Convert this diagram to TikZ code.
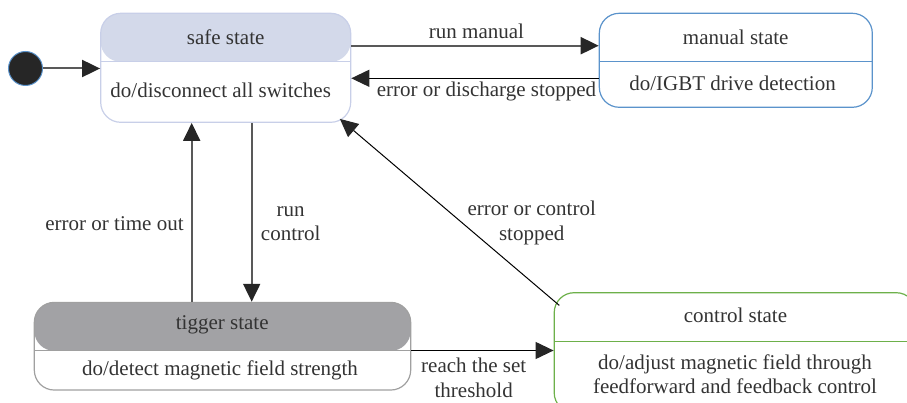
\documentclass[tikz,border=0pt]{standalone}
\usepackage{fontspec}
\setmainfont{LiberationSerif-Regular.ttf}
\usetikzlibrary{arrows.meta}

\definecolor{txt}{HTML}{333333}
\definecolor{safehead}{HTML}{D3D9EA}
\definecolor{safeline}{HTML}{C8CFE8}
\definecolor{manualline}{HTML}{5B93CB}
\definecolor{tighead}{HTML}{A2A2A5}
\definecolor{tigline}{HTML}{A0A0A0}
\definecolor{ctrlline}{HTML}{6DB04A}
\definecolor{initdark}{HTML}{262626}
\definecolor{wire}{HTML}{595959}
\definecolor{tip}{HTML}{262626}

\begin{document}
\begin{tikzpicture}[x=1pt, y=-1pt,
	every node/.style={text=txt, font=\fontsize{21}{24.5}\selectfont},
	state/.style={draw, line width=1.2pt, rounded corners=20pt, inner sep=0pt},
	head/.style 2 args={path picture={
		\fill[#1] (path picture bounding box.north west) rectangle ([yshift=-48.5pt]path picture bounding box.north east);
		\draw[#2, line width=1.2pt] ([yshift=-48.5pt]path picture bounding box.north west) -- ([yshift=-48.5pt]path picture bounding box.north east);}},
	lbl/.style={inner sep=0pt, align=center},
	arr/.style={-{Triangle[length=18pt, width=17pt, color=tip]}},
	thick wire/.style={arr, draw=wire, line width=2pt},
	thin wire/.style={arr, draw=black, line width=1.2pt}]
	  \useasboundingbox (0,0) rectangle (907,403);
	  \clip (0,0) rectangle (907,403);

	  \node[circle, draw=manualline, fill=initdark, line width=1pt, minimum size=34pt, inner sep=0pt] (init) at (25.5,68.5) {};

	  \node[state, draw=safeline, head={safehead}{safeline}, minimum width=250pt, minimum height=109pt] (safe) at (225.7,67.8) {};
	  \node[state, draw=manualline, head={white}{manualline}, minimum width=273pt, minimum height=94pt] (manual) at (735.8,60.3) {};
	  \node[state, draw=tigline, head={tighead}{tigline}, minimum width=376.4pt, minimum height=87.7pt] (tigger) at (222.5,346.2) {};
	  \node[state, draw=ctrlline, head={white}{ctrlline}, minimum width=362pt, minimum height=120pt] (control) at (735.2,352.7) {};

	  \node[lbl] (safe-t) at (225.7,37) {safe state};
	  \node[lbl] (safe-b) at (220.7,90.7) {do/disconnect all switches};
	  \node[lbl] (manual-t) at (735.7,37.3) {manual state};
	  \node[lbl] (manual-b) at (732.5,83.3) {do/IGBT drive detection};
	  \node[lbl] (tigger-t) at (222.2,325) {tigger state};
	  \node[lbl] (tigger-b) at (220,370) {do/detect magnetic field strength};
	  \node[lbl] (control-t) at (735.5,315) {control state};
	  \node[lbl] (control-b) at (735,374) {do/adjust magnetic field through\\feedforward and feedback control};

	  \draw[thick wire] (init) -- (init -| safe.west);
	  \draw[thick wire] ([yshift=22.1pt]safe.east) -- ([yshift=22.1pt]safe.east -| manual.west);
	  \draw[thin wire] ([yshift=-18pt]manual.west) -- ([yshift=-18pt]manual.west -| safe.east);
	  \draw[thick wire] ([xshift=-34pt]safe.south |- tigger.north) -- ([xshift=-34pt]safe.south);
	  \draw[thick wire] ([xshift=26pt]safe.south) -- ([xshift=26pt]safe.south |- tigger.north);
	  \draw[thin wire] ([yshift=-4.3pt]tigger.east) -- ([yshift=-4.3pt]tigger.east -| control.west);
	  \draw[arr, line width=1pt] ([xshift=5.7pt, yshift=-13.3pt]control.north west) -- ([xshift=-11.4pt, yshift=4pt]safe.south east);

	  \node[lbl] (run-manual) at (476.5,31) {run manual};
	  \node[lbl] (err-discharge) at (486.5,91.7) {error or discharge stopped};
	  \node[lbl] (err-timeout) at (114.5,223.3) {error or time out};
	  \node[lbl] (run-control) at (290.7,223.5) {run\\control};
	  \node[lbl] (err-control) at (531.7,223) {error or control\\stopped};
	  \node[lbl] (reach) at (473.7,378) {reach the set\\threshold};
	\end{tikzpicture}
\end{document}
